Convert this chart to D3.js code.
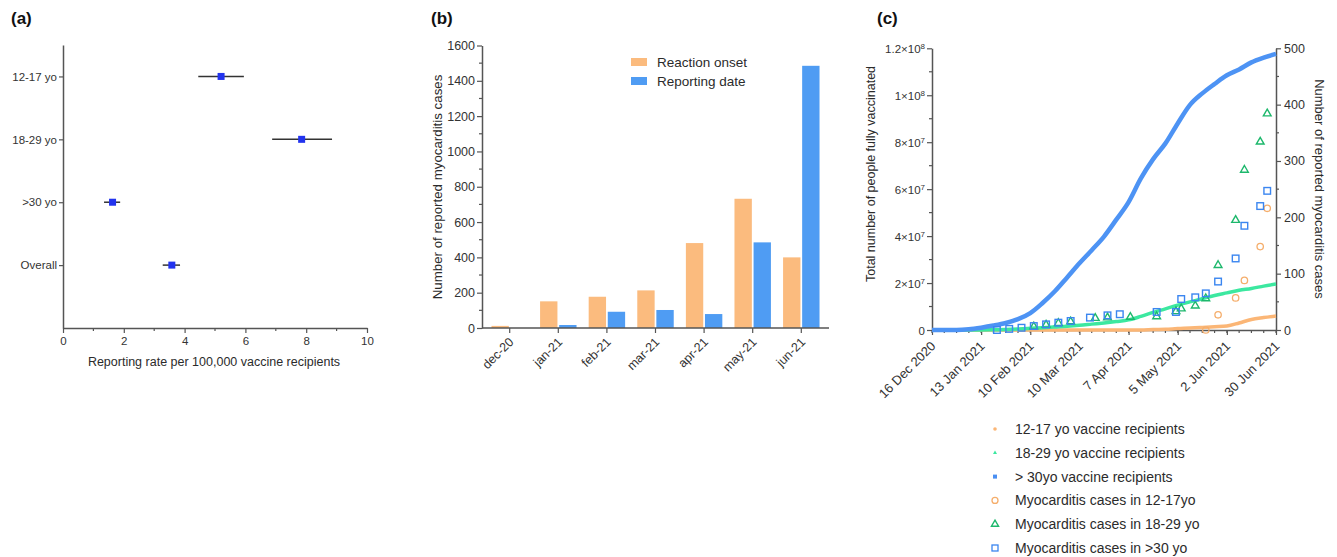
<!DOCTYPE html>
<html>
<head>
<meta charset="utf-8">
<script src="https://cdn.jsdelivr.net/npm/d3@7"></script>
<style>
  body { margin: 0; background: #fff; }
  svg text { font-family: "Liberation Sans", Arial, sans-serif; fill: #2b2b2b; }
</style>
</head>
<body>
<div id="main"></div>
<script>
// ---- panel (a) ----
var ageGroups = ['12-17 yo', '18-29 yo', '>30 yo', 'Overall'];
var rate = [5.2, 7.85, 1.63, 3.58];
var rateLow = [4.45, 6.88, 1.35, 3.28];
var rateHigh = [5.95, 8.85, 1.88, 3.85];
var rateTicks = [0, 2, 4, 6, 8, 10];

// ---- panel (b) ----
var months = ['dec-20', 'jan-21', 'feb-21', 'mar-21', 'apr-21', 'may-21', 'jun-21'];
var onsetCases = [12, 151, 177, 213, 481, 732, 400];
var reportCases = [0, 17, 92, 102, 79, 485, 1485];
var caseTicks = [0, 200, 400, 600, 800, 1000, 1200, 1400, 1600];

// ---- panel (c) ----
var dateTicks = ['2020-12-16', '2021-01-13', '2021-02-10', '2021-03-10', '2021-04-07', '2021-05-05', '2021-06-02', '2021-06-30'];
var dateTickLabels = ['16 Dec 2020', '13 Jan 2021', '10 Feb 2021', '10 Mar 2021', '7 Apr 2021', '5 May 2021', '2 Jun 2021', '30 Jun 2021'];
// days since 16 Dec 2020, weekly readings
var vaxDays = [0, 7, 14, 21, 28, 35, 42, 49, 56, 63, 70, 77, 84, 91, 98, 105, 112, 119, 126, 133, 140, 147, 154, 161, 168, 175, 182, 189, 196];
// people fully vaccinated, millions
var vax12 = [0, 0, 0, 0, 0, 0, 0, 0, 0, 0, 0, 0, 0, 0, 0, 0, 0, 0, 0.2, 0.3, 0.6, 0.8, 1.1, 1.4, 1.7, 3.0, 4.5, 5.3, 6.0];
var vax18 = [0, 0, 0, 0, 0, 0.1, 0.2, 0.4, 0.7, 1.0, 1.3, 1.6, 2.0, 2.5, 3.0, 3.6, 4.3, 5.8, 7.5, 9.0, 10.6, 12.0, 13.3, 14.7, 15.8, 16.9, 17.7, 18.7, 19.6];
var vax30 = [0, 0, 0, 0.3, 1.0, 1.9, 3.0, 4.6, 7.2, 11.5, 16.5, 22.4, 28.4, 34.0, 39.8, 47.0, 54.5, 64.6, 72.8, 79.5, 88.0, 95.9, 100.8, 104.8, 108.5, 111.0, 114.0, 116.0, 117.6];

// myocarditis cases (right axis)
var case12Dates = ['2021-05-21', '2021-05-28', '2021-06-07', '2021-06-12', '2021-06-21', '2021-06-25'];
var case12 = [0, 27, 57, 88, 148, 216];
var case18Dates = ['2021-02-12', '2021-02-19', '2021-02-26', '2021-03-05', '2021-03-19', '2021-03-26', '2021-04-08', '2021-04-23', '2021-05-04', '2021-05-07', '2021-05-15', '2021-05-21', '2021-05-28', '2021-06-07', '2021-06-12', '2021-06-21', '2021-06-25'];
var case18 = [6, 9, 12, 15, 21, 22, 23, 24, 33, 38, 43, 56, 115, 195, 284, 334, 384];
var case30Dates = ['2021-01-22', '2021-01-29', '2021-02-05', '2021-02-12', '2021-02-19', '2021-02-26', '2021-03-05', '2021-03-16', '2021-03-26', '2021-04-02', '2021-04-23', '2021-05-04', '2021-05-07', '2021-05-15', '2021-05-21', '2021-05-28', '2021-06-07', '2021-06-12', '2021-06-21', '2021-06-25'];
var case30 = [0, 2, 4, 7, 10, 13, 16, 22, 26, 28, 32, 32, 55, 58, 65, 86, 127, 185, 220, 247];

var legendLabels = ['12-17 yo vaccine recipients', '18-29 yo vaccine recipients', '> 30yo vaccine recipients',
  'Myocarditis cases in 12-17yo', 'Myocarditis cases in 18-29 yo', 'Myocarditis cases in >30 yo'];

var axisColor = '#555';
var orange = '#fbbb7e';
var blue = '#4f9cf3';

var svg = d3.select('#main')
  .append('svg')
  .attr('width', 1337)
  .attr('height', 557);

function panelTitle(x, label) {
  svg.append('text')
    .attr('x', x).attr('y', 24)
    .attr('font-size', 17).attr('font-weight', 'bold')
    .style('fill', '#111')
    .text(label);
}

function styleAxis(g, size) {
  g.selectAll('.domain').attr('stroke', axisColor).attr('stroke-width', 1.5);
  g.selectAll('.tick line').attr('stroke', axisColor).attr('stroke-width', 1.2);
  g.selectAll('.tick text').attr('font-size', size || 12).style('fill', '#333');
}

// ================= (a) =================
panelTitle(11, '(a)');

var xa = d3.scaleLinear().domain([0, 10]).range([63, 367]);
var ya = d3.scaleLinear().domain([-0.5, 4]).range([45, 328]);

var axA = svg.append('g')
  .attr('transform', 'translate(0,328)')
  .call(d3.axisBottom(xa).tickValues(rateTicks).tickSize(5).tickPadding(4).tickSizeOuter(0));
styleAxis(axA, 11.5);
svg.append('g').selectAll('line')
  .data(d3.range(1, 10, 2))
  .enter().append('line')
  .attr('x1', function(d) { return xa(d); })
  .attr('x2', function(d) { return xa(d); })
  .attr('y1', 328).attr('y2', 331)
  .attr('stroke', axisColor).attr('stroke-width', 1.2);

var ayA = svg.append('g')
  .attr('transform', 'translate(63,0)')
  .call(d3.axisLeft(ya).tickValues([0, 1, 2, 3]).tickFormat(function(d) { return ageGroups[d]; })
    .tickSize(4).tickPadding(2).tickSizeOuter(0));
styleAxis(ayA, 11.5);

var forest = svg.append('g');
forest.selectAll('line.ci')
  .data(ageGroups)
  .enter().append('line')
  .attr('class', 'ci')
  .attr('x1', function(d, i) { return xa(rateLow[i]); })
  .attr('x2', function(d, i) { return xa(rateHigh[i]); })
  .attr('y1', function(d, i) { return ya(i); })
  .attr('y2', function(d, i) { return ya(i); })
  .attr('stroke', '#333').attr('stroke-width', 1.5);
forest.selectAll('rect.pt')
  .data(ageGroups)
  .enter().append('rect')
  .attr('class', 'pt')
  .attr('x', function(d, i) { return xa(rate[i]) - 3.5; })
  .attr('y', function(d, i) { return ya(i) - 3.5; })
  .attr('width', 7).attr('height', 7)
  .attr('fill', '#2233ee');

svg.append('text')
  .attr('x', 214).attr('y', 366)
  .attr('text-anchor', 'middle').attr('font-size', 12.5)
  .text('Reporting rate per 100,000 vaccine recipients');

// ================= (b) =================
panelTitle(431, '(b)');

var xb = d3.scaleBand().domain(months).range([482, 829]).paddingInner(0.25).paddingOuter(0.195);
var xb1 = d3.scaleBand().domain(['onset', 'report']).range([0, xb.bandwidth()]).paddingInner(0.09);
var yb = d3.scaleLinear().domain([0, 1600]).range([328, 45.5]);

var bars = svg.append('g');
bars.selectAll('rect.onset')
  .data(months)
  .enter().append('rect')
  .attr('class', 'onset')
  .attr('x', function(d) { return xb(d) + xb1('onset'); })
  .attr('width', xb1.bandwidth())
  .attr('y', function(d, i) { return yb(onsetCases[i]); })
  .attr('height', function(d, i) { return yb(0) - yb(onsetCases[i]); })
  .attr('fill', orange);
bars.selectAll('rect.report')
  .data(months)
  .enter().append('rect')
  .attr('class', 'report')
  .attr('x', function(d) { return xb(d) + xb1('report'); })
  .attr('width', xb1.bandwidth())
  .attr('y', function(d, i) { return yb(reportCases[i]); })
  .attr('height', function(d, i) { return yb(0) - yb(reportCases[i]); })
  .attr('fill', blue);

var axB = svg.append('g')
  .attr('transform', 'translate(0,328)')
  .call(d3.axisBottom(xb).tickSize(5).tickSizeOuter(0));
styleAxis(axB, 12.5);
axB.selectAll('.tick text')
  .attr('text-anchor', 'end')
  .attr('transform', 'translate(-4,6) rotate(-45)')
  .attr('dy', '0.35em');
axB.select('.domain').attr('d', 'M482,0H829');

var ayB = svg.append('g')
  .attr('transform', 'translate(482,0)')
  .call(d3.axisLeft(yb).tickValues(caseTicks).tickFormat(d3.format('d'))
    .tickSize(5).tickPadding(2).tickSizeOuter(0));
styleAxis(ayB, 12.5);
svg.append('g').selectAll('line')
  .data(d3.range(100, 1600, 200))
  .enter().append('line')
  .attr('x1', 479).attr('x2', 482)
  .attr('y1', function(d) { return yb(d); })
  .attr('y2', function(d) { return yb(d); })
  .attr('stroke', axisColor).attr('stroke-width', 1.2);

svg.append('text')
  .attr('transform', 'translate(442,187) rotate(-90)')
  .attr('text-anchor', 'middle').attr('font-size', 13.3)
  .text('Number of reported myocarditis cases');

var legB = svg.append('g');
legB.selectAll('rect')
  .data([orange, blue])
  .enter().append('rect')
  .attr('x', 631).attr('y', function(d, i) { return 58 + i * 19; })
  .attr('width', 16).attr('height', 8)
  .attr('fill', function(d) { return d; });
legB.selectAll('text')
  .data(['Reaction onset', 'Reporting date'])
  .enter().append('text')
  .attr('x', 657).attr('y', function(d, i) { return 67 + i * 19; })
  .attr('font-size', 13.5)
  .text(function(d) { return d; });

// ================= (c) =================
panelTitle(877, '(c)');

var parse = d3.timeParse('%Y-%m-%d');
var start = parse('2020-12-16');
var xc = d3.scaleTime().domain([start, parse('2021-06-30')]).range([932, 1276]);
var yc = d3.scaleLinear().domain([0, 1.2e8]).range([330, 48.3]);
var yc2 = d3.scaleLinear().domain([0, 500]).range([330, 48.3]);

function dayDate(d) { return d3.timeDay.offset(start, d); }

var axC = svg.append('g')
  .attr('transform', 'translate(0,330)')
  .call(d3.axisBottom(xc).tickValues(dateTicks.map(parse))
    .tickFormat(function(d, i) { return dateTickLabels[i]; })
    .tickSize(5).tickSizeOuter(0));
styleAxis(axC, 13);
axC.selectAll('.tick text')
  .attr('text-anchor', 'end')
  .attr('transform', 'translate(-5,8) rotate(-45)')
  .attr('dy', '0.35em');
svg.append('g').selectAll('line')
  .data(d3.timeDay.range(start, parse('2021-07-01'), 7))
  .enter().append('line')
  .attr('x1', function(d) { return xc(d); })
  .attr('x2', function(d) { return xc(d); })
  .attr('y1', 330).attr('y2', 333)
  .attr('stroke', axisColor).attr('stroke-width', 1.2);

var ayC = svg.append('g')
  .attr('transform', 'translate(932,0)')
  .call(d3.axisLeft(yc).tickValues([0, 2e7, 4e7, 6e7, 8e7, 1e8, 1.2e8]).tickFormat('')
    .tickSize(5).tickSizeOuter(0));
styleAxis(ayC, 11);
ayC.selectAll('.tick').each(function(d) {
  var t = d3.select(this).append('text')
    .attr('x', -7).attr('dy', '0.35em')
    .attr('text-anchor', 'end').attr('font-size', 11.5)
    .style('fill', '#333');
  if (d === 0) { t.text('0'); return; }
  var e = Math.floor(Math.log10(d));
  var m = d / Math.pow(10, e);
  t.append('tspan').text(d3.format('~g')(m) + '\u00d710');
  t.append('tspan').attr('dy', '-0.45em').attr('font-size', 8).text(e);
});
svg.append('g').selectAll('line')
  .data(d3.range(1e7, 1.2e8, 2e7))
  .enter().append('line')
  .attr('x1', 929).attr('x2', 932)
  .attr('y1', function(d) { return yc(d); })
  .attr('y2', function(d) { return yc(d); })
  .attr('stroke', axisColor).attr('stroke-width', 1.2);

var ayC2 = svg.append('g')
  .attr('transform', 'translate(1276,0)')
  .call(d3.axisRight(yc2).tickValues([0, 100, 200, 300, 400, 500]).tickSize(5).tickPadding(3).tickSizeOuter(0));
styleAxis(ayC2, 12.5);
svg.append('g').selectAll('line')
  .data(d3.range(50, 500, 100))
  .enter().append('line')
  .attr('x1', 1276).attr('x2', 1279)
  .attr('y1', function(d) { return yc2(d); })
  .attr('y2', function(d) { return yc2(d); })
  .attr('stroke', axisColor).attr('stroke-width', 1.2);

svg.append('text')
  .attr('transform', 'translate(875,174) rotate(-90)')
  .attr('text-anchor', 'middle').attr('font-size', 12.5)
  .text('Total number of people fully vaccinated');
svg.append('text')
  .attr('transform', 'translate(1315,189) rotate(90)')
  .attr('text-anchor', 'middle').attr('font-size', 13)
  .text('Number of reported myocarditis cases');

var vaxLine = d3.line()
  .x(function(d, i) { return xc(dayDate(vaxDays[i])); })
  .y(function(d) { return yc(d * 1e6); })
  .curve(d3.curveMonotoneX);

var lines = svg.append('g');
lines.append('path').datum(vax12)
  .attr('d', vaxLine).attr('fill', 'none')
  .attr('stroke', '#fbb676').attr('stroke-width', 3.5);
lines.append('path').datum(vax18)
  .attr('d', vaxLine).attr('fill', 'none')
  .attr('stroke', '#3ce8a0').attr('stroke-width', 3.5);
lines.append('path').datum(vax30)
  .attr('d', vaxLine).attr('fill', 'none')
  .attr('stroke', '#4d93f4').attr('stroke-width', 4.5);

var marks = svg.append('g');
marks.selectAll('circle')
  .data(case12)
  .enter().append('circle')
  .attr('cx', function(d, i) { return xc(parse(case12Dates[i])); })
  .attr('cy', function(d) { return yc2(d); })
  .attr('r', 3.2)
  .attr('fill', 'none').attr('stroke', '#f5ae6c').attr('stroke-width', 1.3);
marks.selectAll('path.tri')
  .data(case18)
  .enter().append('path')
  .attr('class', 'tri')
  .attr('d', d3.symbol().type(d3.symbolTriangle).size(26))
  .attr('transform', function(d, i) { return 'translate(' + xc(parse(case18Dates[i])) + ',' + yc2(d) + ')'; })
  .attr('fill', 'none').attr('stroke', '#1db86c').attr('stroke-width', 1.4);
marks.selectAll('rect.sq')
  .data(case30)
  .enter().append('rect')
  .attr('class', 'sq')
  .attr('x', function(d, i) { return xc(parse(case30Dates[i])) - 3.3; })
  .attr('y', function(d) { return yc2(d) - 3.3; })
  .attr('width', 6.6).attr('height', 6.6)
  .attr('fill', 'none').attr('stroke', '#3b86f0').attr('stroke-width', 1.4);

// legend (c)
var legC = svg.append('g');
var legY = function(i) { return 429 + i * 23.8; };
legC.append('circle').attr('cx', 995).attr('cy', legY(0)).attr('r', 1.8).attr('fill', '#fbb676');
legC.append('path').attr('d', d3.symbol().type(d3.symbolTriangle).size(7))
  .attr('transform', 'translate(995,' + legY(1) + ')').attr('fill', '#3ce8a0');
legC.append('rect').attr('x', 993).attr('y', legY(2) - 2).attr('width', 4).attr('height', 4).attr('fill', '#4a8ff2');
legC.append('circle').attr('cx', 995).attr('cy', legY(3)).attr('r', 3)
  .attr('fill', 'none').attr('stroke', '#f5ae6c').attr('stroke-width', 1.3);
legC.append('path').attr('d', d3.symbol().type(d3.symbolTriangle).size(22))
  .attr('transform', 'translate(995,' + legY(4) + ')')
  .attr('fill', 'none').attr('stroke', '#1db86c').attr('stroke-width', 1.4);
legC.append('rect').attr('x', 992).attr('y', legY(5) - 3).attr('width', 6).attr('height', 6)
  .attr('fill', 'none').attr('stroke', '#3b86f0').attr('stroke-width', 1.3);
legC.selectAll('text')
  .data(legendLabels)
  .enter().append('text')
  .attr('x', 1015).attr('y', function(d, i) { return legY(i) + 5; })
  .attr('font-size', 14)
  .text(function(d) { return d; });
</script>
</body>
</html>
